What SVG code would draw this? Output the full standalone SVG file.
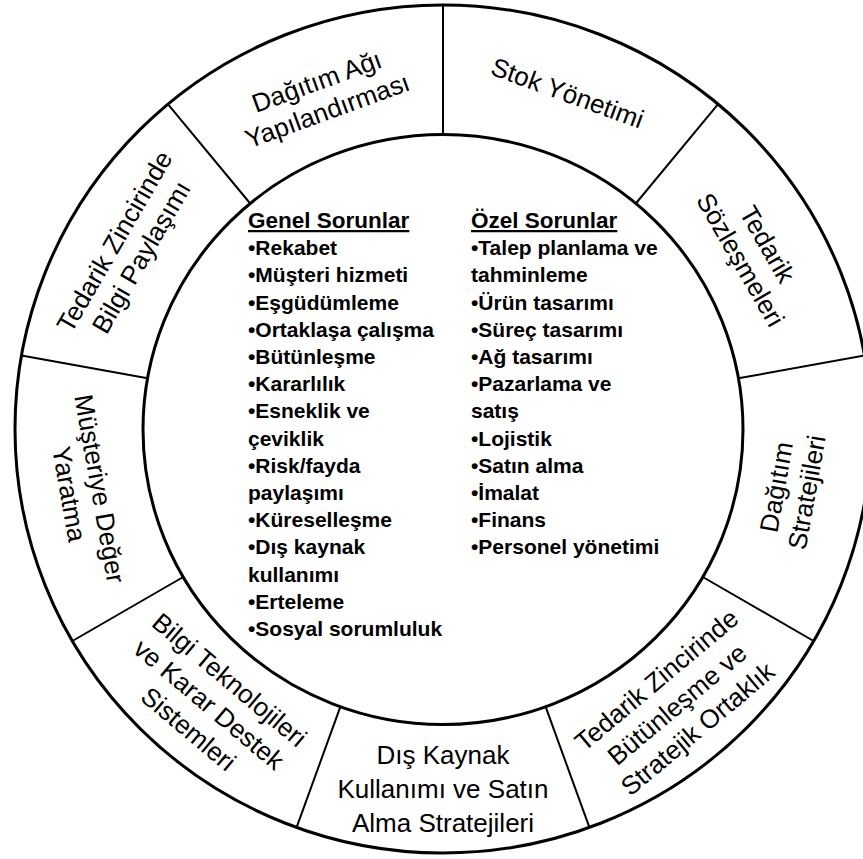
<svg xmlns="http://www.w3.org/2000/svg" width="863" height="859" viewBox="0 0 863 859">
  <style>
    .ring { fill: #fff; stroke: #000; stroke-width: 3; }
    .divider { stroke: #000; stroke-width: 2; fill: none; }
    .seg { font-family: "Liberation Sans", Arial, sans-serif; font-size: 26px; fill: #000; text-anchor: middle; }
    .core { font-family: "Liberation Sans", Arial, sans-serif; font-weight: bold; font-size: 21px; fill: #000; }
    .head { font-size: 22.5px; text-decoration: underline; }
  </style>

  <rect width="863" height="859" fill="#fff"/>

  <!-- outer ring boundary -->
  <g id="ring">
    <ellipse class="ring" cx="443" cy="429" rx="428" ry="424"/>
  </g>

  <!-- radial separators between the ring segments -->
  <g id="connectors">
    <line class="divider" x1="443" y1="5" x2="443" y2="134.5"/>
    <line class="divider" x1="718.1" y1="104.2" x2="635.8" y2="203.5"/>
    <line class="divider" x1="864.5" y1="355.4" x2="738.4" y2="378.3"/>
    <line class="divider" x1="813.6" y1="641" x2="702.8" y2="577"/>
    <line class="divider" x1="589.4" y1="827.4" x2="545.6" y2="706.7"/>
    <line class="divider" x1="296.6" y1="827.4" x2="340.4" y2="706.7"/>
    <line class="divider" x1="72.4" y1="641" x2="183.2" y2="577"/>
    <line class="divider" x1="21.5" y1="355.4" x2="147.6" y2="378.3"/>
    <line class="divider" x1="167.9" y1="104.2" x2="250.2" y2="203.5"/>
  </g>

  <!-- ring segments -->
  <g id="stok-yonetimi" transform="translate(567.5 93) rotate(20)">
    <text class="seg" x="0" y="9">Stok Yönetimi</text>
  </g>
  <g id="tedarik-sozlesmeleri" transform="translate(754 252) rotate(60)">
    <text class="seg"><tspan x="0" y="-6.5">Tedarik</tspan><tspan x="0" y="24.5">Sözleşmeleri</tspan></text>
  </g>
  <g id="dagitim-stratejileri" transform="translate(791.5 489.7) rotate(-80)">
    <text class="seg"><tspan x="0" y="-6.5">Dağıtım</tspan><tspan x="0" y="24.5">Stratejileri</tspan></text>
  </g>
  <g id="butunlesme-ortaklik" transform="translate(677 704.4) rotate(-40)">
    <text class="seg"><tspan x="0" y="-23">Tedarik Zincirinde</tspan><tspan x="0" y="9">Bütünleşme ve</tspan><tspan x="0" y="41">Stratejik Ortaklık</tspan></text>
  </g>
  <g id="dis-kaynak" transform="translate(443 788.5)">
    <text class="seg"><tspan x="0" y="-25">Dış Kaynak</tspan><tspan x="0" y="9">Kullanımı ve Satın</tspan><tspan x="0" y="43">Alma Stratejileri</tspan></text>
  </g>
  <g id="bilgi-teknolojileri" transform="translate(209 704.4) rotate(40)">
    <text class="seg"><tspan x="0" y="-23">Bilgi Teknolojileri</tspan><tspan x="0" y="9">ve Karar Destek</tspan><tspan x="0" y="41">Sistemleri</tspan></text>
  </g>
  <g id="musteriye-deger" transform="translate(84.5 491.4) rotate(80)">
    <text class="seg"><tspan x="0" y="-6.5">Müşteriye Değer</tspan><tspan x="0" y="24.5">Yaratma</tspan></text>
  </g>
  <g id="bilgi-paylasimi" transform="translate(127.8 249.3) rotate(-60)">
    <text class="seg"><tspan x="0" y="-6.5">Tedarik Zincirinde</tspan><tspan x="0" y="24.5">Bilgi Paylaşımı</tspan></text>
  </g>
  <g id="dagitim-agi" transform="translate(322 96) rotate(-20)">
    <text class="seg"><tspan x="0" y="-6.5">Dağıtım Ağı</tspan><tspan x="0" y="24.5">Yapılandırması</tspan></text>
  </g>

  <!-- central issues -->
  <g id="sorunlar">
    <ellipse class="ring" cx="443" cy="429.5" rx="300" ry="295"/>
    <text class="core">
      <tspan class="head" x="248" y="228">Genel Sorunlar</tspan>
      <tspan x="248" y="255.2">•Rekabet</tspan>
      <tspan x="248" y="282.4">•Müşteri hizmeti</tspan>
      <tspan x="248" y="309.6">•Eşgüdümleme</tspan>
      <tspan x="248" y="336.8">•Ortaklaşa çalışma</tspan>
      <tspan x="248" y="364">•Bütünleşme</tspan>
      <tspan x="248" y="391.2">•Kararlılık</tspan>
      <tspan x="248" y="418.4">•Esneklik ve</tspan>
      <tspan x="248" y="445.6">çeviklik</tspan>
      <tspan x="248" y="472.8">•Risk/fayda</tspan>
      <tspan x="248" y="500">paylaşımı</tspan>
      <tspan x="248" y="527.2">•Küreselleşme</tspan>
      <tspan x="248" y="554.4">•Dış kaynak</tspan>
      <tspan x="248" y="581.6">kullanımı</tspan>
      <tspan x="248" y="608.8">•Erteleme</tspan>
      <tspan x="248" y="636">•Sosyal sorumluluk</tspan>
    </text>
    <text class="core">
      <tspan class="head" x="471" y="228">Özel Sorunlar</tspan>
      <tspan x="471" y="255.2">•Talep planlama ve</tspan>
      <tspan x="471" y="282.4">tahminleme</tspan>
      <tspan x="471" y="309.6">•Ürün tasarımı</tspan>
      <tspan x="471" y="336.8">•Süreç tasarımı</tspan>
      <tspan x="471" y="364">•Ağ tasarımı</tspan>
      <tspan x="471" y="391.2">•Pazarlama ve</tspan>
      <tspan x="471" y="418.4">satış</tspan>
      <tspan x="471" y="445.6">•Lojistik</tspan>
      <tspan x="471" y="472.8">•Satın alma</tspan>
      <tspan x="471" y="500">•İmalat</tspan>
      <tspan x="471" y="527.2">•Finans</tspan>
      <tspan x="471" y="554.4">•Personel yönetimi</tspan>
    </text>
  </g>
</svg>
